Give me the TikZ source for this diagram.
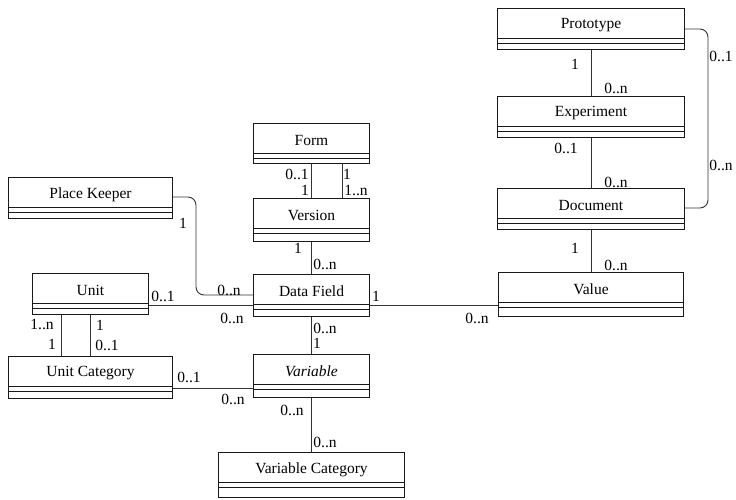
\documentclass[tikz,border=0pt]{standalone}
\usepackage{fontspec}
\setmainfont{Liberation Serif}
\begin{document}
\begin{tikzpicture}[x=1pt,y=-1pt,
  cls/.style={draw=black!90, line width=1pt, anchor=north west, inner sep=0pt, rectangle},
  conn/.style={draw=black!80, line width=0.9pt},
  lbl/.style={font=\fontsize{15.5}{16}\selectfont, inner sep=0pt, text=black},
  ttl/.style={font=\fontsize{15.5}{16}\selectfont, inner sep=0pt, text=black}]
\useasboundingbox (0,0) rectangle (736,499);
% class box: name, x, y, w, h, title
\newcommand\umlclass[6]{%
  \node[cls, minimum width=#4pt, minimum height=#5pt] (#1) at (#2,#3) {};
  \draw[black!90, line width=1pt] ([yshift=-30pt]#1.north west) -- ([yshift=-30pt]#1.north east);
  \draw[black!90, line width=1pt] ([yshift=-35pt]#1.north west) -- ([yshift=-35pt]#1.north east);
  \node[ttl] (#1-t) at ([yshift=-17.5pt]#1.north) {#6};
}
\umlclass{proto}{497}{8}{187}{41}{Prototype}
\umlclass{exp}{497}{96}{187}{41}{Experiment}
\umlclass{doc}{497}{188}{187}{41}{Document}
\umlclass{val}{498}{272}{185}{44}{Value}
\umlclass{form}{253}{123}{116}{40}{Form}
\umlclass{ver}{253}{198}{116}{43}{Version}
\umlclass{df}{253}{274}{116}{42}{Data Field}
\umlclass{var}{253}{354}{116}{43}{\itshape Variable}
\umlclass{vcat}{218}{452}{186}{45}{Variable Category}
\umlclass{pk}{8}{177}{164}{41}{Place Keeper}
\umlclass{unit}{32}{273}{116}{41}{Unit}
\umlclass{ucat}{8}{356}{164}{42}{Unit Category}

% connectors
\draw[conn] (proto.south) -- (exp.north);
\draw[conn] (exp.south) -- (doc.north);
\draw[conn] (doc.south) -- (val.north);
\draw[conn, rounded corners=8pt] ([yshift=-21pt]proto.north east) -- ++(23,0) |- ([yshift=-20pt]doc.north east);
\draw[conn] (form.south) -- (ver.north);
\draw[conn] ([xshift=31pt]form.south) -- ([xshift=31pt]ver.north);
\draw[conn] (ver.south) -- (df.north);
\draw[conn] (df.south) -- (var.north);
\draw[conn] (var.south) -- (vcat.north);
\draw[conn, rounded corners=8pt] ([yshift=-20pt]pk.north east) -- ++(23,0) |- ([yshift=-21pt]df.north west);
\draw[conn] ([yshift=-32pt]unit.north east) -- ([yshift=-32pt]unit.north east -| df.west);
\draw[conn] ([yshift=-31pt]df.north east) -- ([yshift=-31pt]df.north east -| val.west);
\draw[conn] ([xshift=29pt]unit.south west) -- ([xshift=29pt]unit.south west |- ucat.north);
\draw[conn] ([xshift=58pt]unit.south west) -- ([xshift=58pt]unit.south west |- ucat.north);
\draw[conn] ([yshift=-32pt]ucat.north east) -- ([yshift=-32pt]ucat.north east -| var.west);

% labels
\node[lbl] (l1) at (575,64) {1};
\node[lbl] (l2) at (616,88) {0..n};
\node[lbl] (l3) at (566,148) {0..1};
\node[lbl] (l4) at (616,182) {0..n};
\node[lbl] (l5) at (721,56) {0..1};
\node[lbl] (l6) at (721,165) {0..n};
\node[lbl] (l7) at (575,248) {1};
\node[lbl] (l8) at (616,265) {0..n};
\node[lbl] (l9) at (376,296) {1};
\node[lbl] (l10) at (477,318) {0..n};
\node[lbl] (l11) at (183,223) {1};
\node[lbl] (l12) at (229,290) {0..n};
\node[lbl] (l13) at (163,296) {0..1};
\node[lbl] (l14) at (232,318) {0..n};
\node[lbl] (l15) at (42,324) {1..n};
\node[lbl] (l16) at (52,344) {1};
\node[lbl] (l17) at (100,325) {1};
\node[lbl] (l18) at (107,345) {0..1};
\node[lbl] (l19) at (189,377) {0..1};
\node[lbl] (l20) at (233,399) {0..n};
\node[lbl] (l21) at (297,174) {0..1};
\node[lbl] (l22) at (305,190) {1};
\node[lbl] (l23) at (347,174) {1};
\node[lbl] (l24) at (356,190) {1..n};
\node[lbl] (l25) at (298,248) {1};
\node[lbl] (l26) at (325,264) {0..n};
\node[lbl] (l27) at (325,328) {0..n};
\node[lbl] (l28) at (317,343) {1};
\node[lbl] (l29) at (292,410) {0..n};
\node[lbl] (l30) at (325,442) {0..n};
\end{tikzpicture}
\end{document}
